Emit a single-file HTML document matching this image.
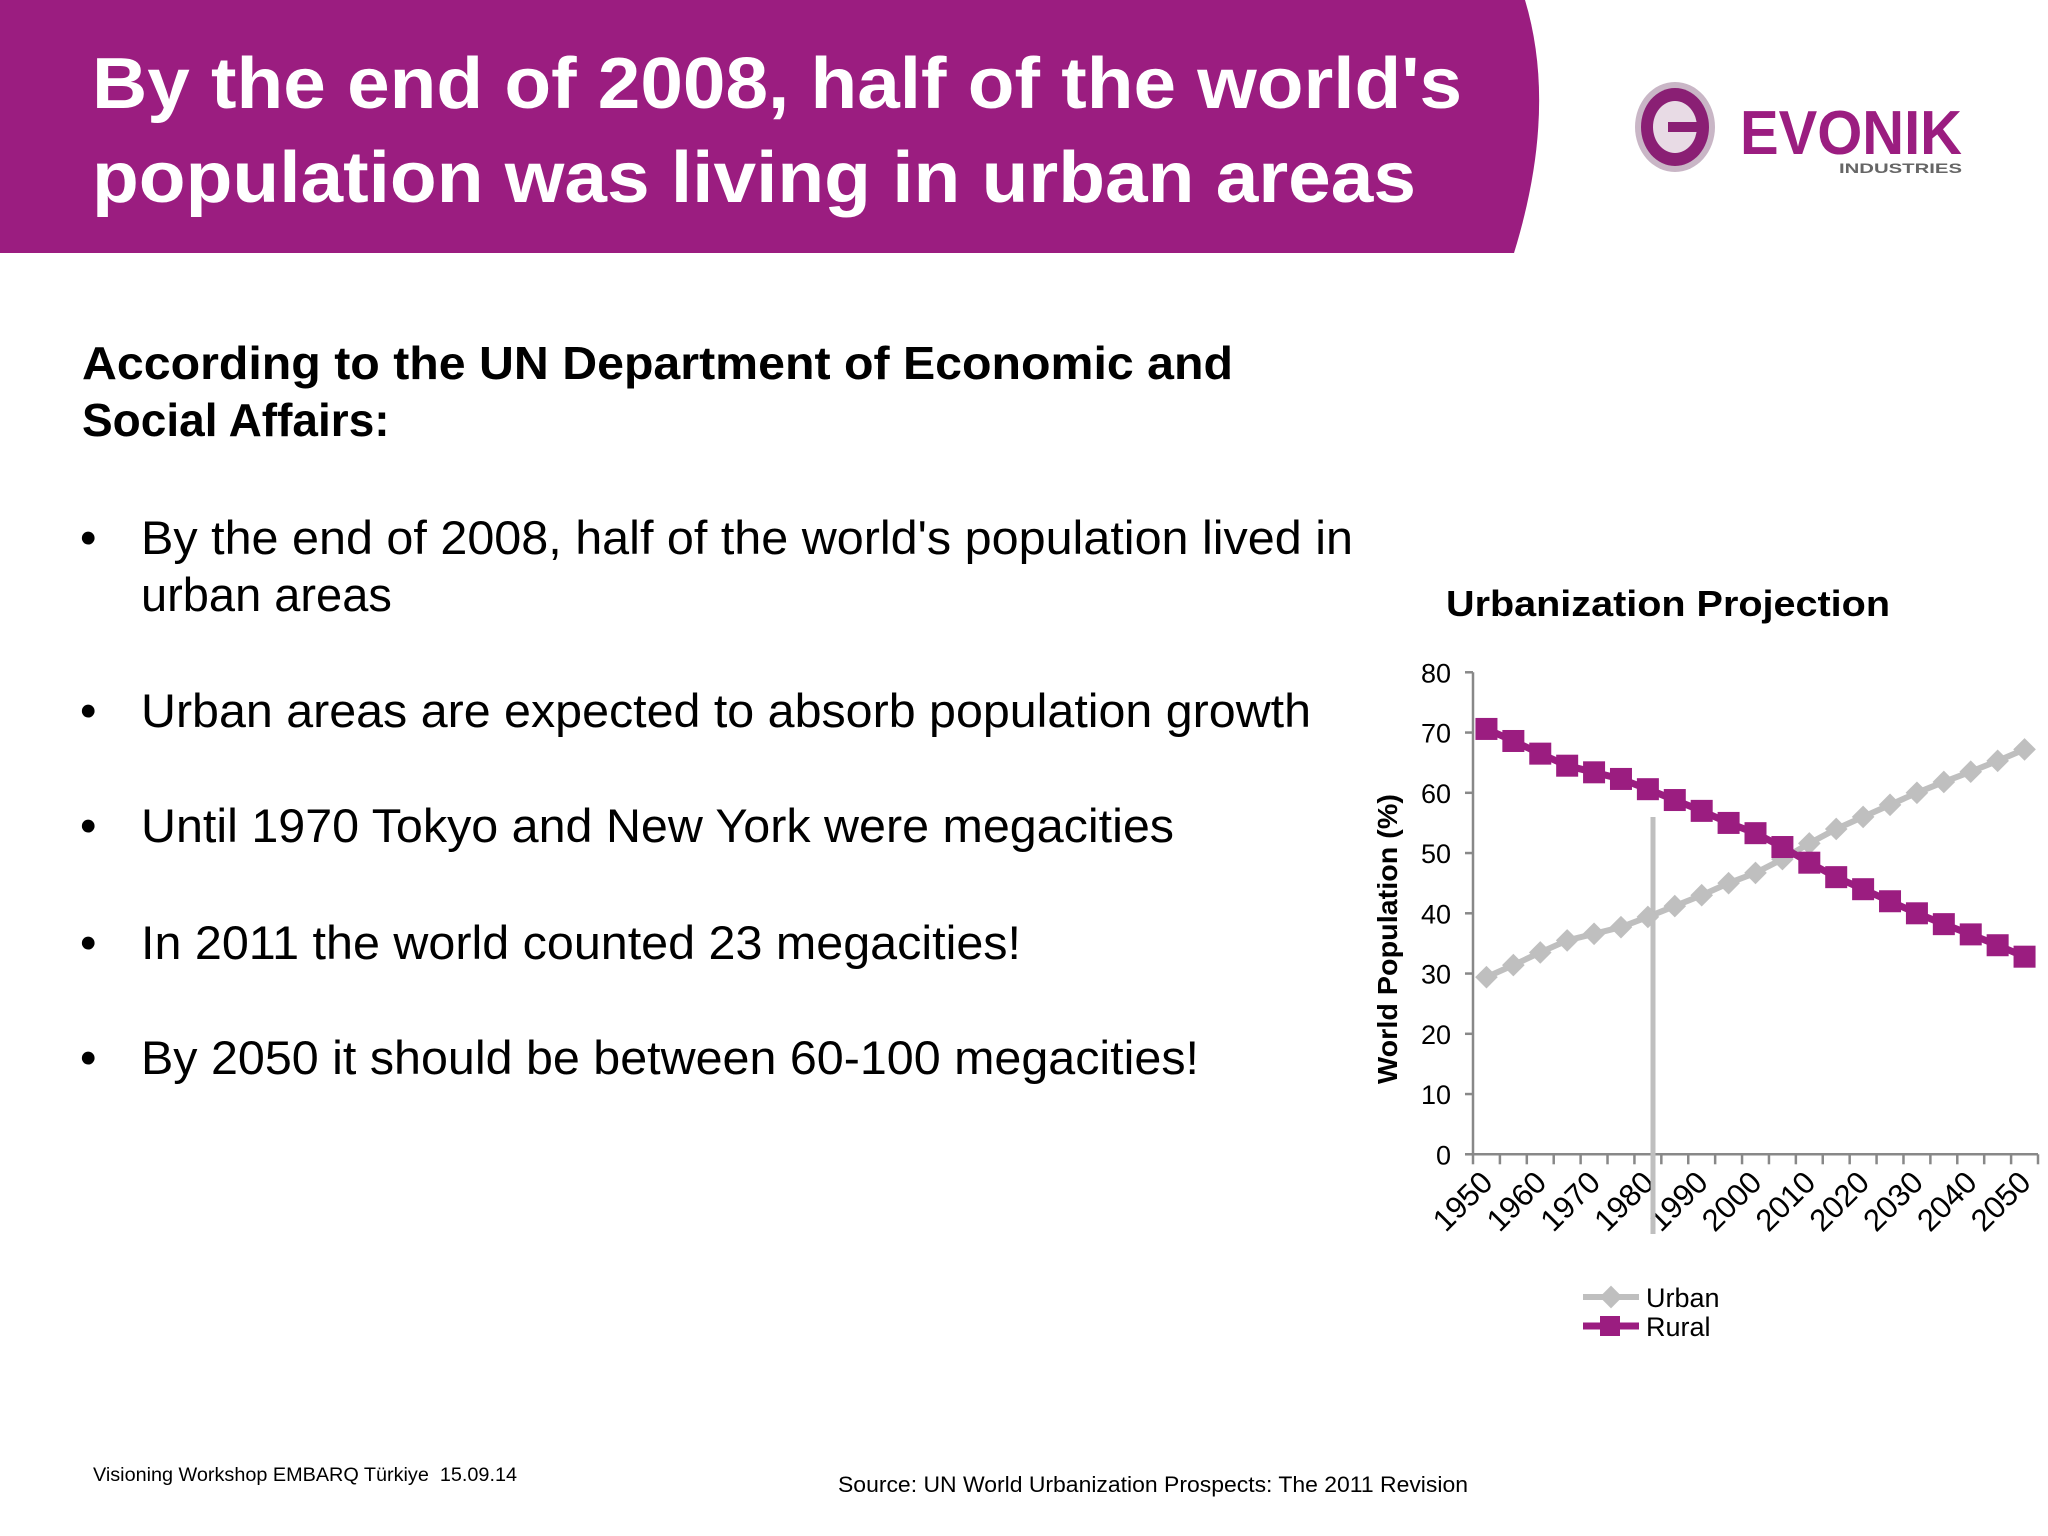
<!DOCTYPE html>
<html><head><meta charset="utf-8"><style>
html,body{margin:0;padding:0;background:#fff;}
svg{display:block;font-family:"Liberation Sans",Arial,sans-serif;}
</style></head><body>
<svg id="slide" width="2048" height="1536" viewBox="0 0 2048 1536" xmlns="http://www.w3.org/2000/svg">
<rect width="2048" height="1536" fill="#fff"/>
<path d="M0 0 H1525 Q1558 110 1514 253 H0 Z" fill="#9b1d80"/>
<g fill="#fff" font-weight="bold" font-size="72">
<text x="92" y="108" textLength="1370" lengthAdjust="spacingAndGlyphs">By the end of 2008, half of the world's</text>
<text x="92" y="202" textLength="1324" lengthAdjust="spacingAndGlyphs">population was living in urban areas</text>
</g>
<g>
<ellipse cx="1675" cy="127" rx="40" ry="45" fill="#c9b6c6"/>
<ellipse cx="1675" cy="127" rx="34" ry="39" fill="#8a1f74"/>
<ellipse cx="1675" cy="127" rx="22" ry="26" fill="#e8dbe5"/>
<rect x="1668" y="122" width="32" height="10" fill="#8a1f74"/>
<text x="1740" y="154" font-size="62" font-weight="bold" fill="#9b1d80" textLength="222" lengthAdjust="spacingAndGlyphs">EVONIK</text>
<text x="1839" y="173" font-size="14" font-weight="bold" fill="#666" textLength="123" lengthAdjust="spacingAndGlyphs">INDUSTRIES</text>
</g>
<g font-weight="bold" font-size="46" fill="#000">
<text x="82" y="379" textLength="1151" lengthAdjust="spacingAndGlyphs">According to the UN Department of Economic and</text>
<text x="82" y="436">Social Affairs:</text>
</g>
<g font-size="47" fill="#000">
<text x="80" y="554">•</text><text x="141" y="554" textLength="1212" lengthAdjust="spacingAndGlyphs">By the end of 2008, half of the world's population lived in</text>
<text x="141" y="611">urban areas</text>
<text x="80" y="727">•</text><text x="141" y="727" textLength="1170" lengthAdjust="spacingAndGlyphs">Urban areas are expected to absorb population growth</text>
<text x="80" y="842">•</text><text x="141" y="842" textLength="1033" lengthAdjust="spacingAndGlyphs">Until 1970 Tokyo and New York were megacities</text>
<text x="80" y="959">•</text><text x="141" y="959" textLength="880" lengthAdjust="spacingAndGlyphs">In 2011 the world counted 23 megacities!</text>
<text x="80" y="1074">•</text><text x="141" y="1074" textLength="1058" lengthAdjust="spacingAndGlyphs">By 2050 it should be between 60-100 megacities!</text>
</g>
<text x="1446" y="616" font-size="36" font-weight="bold" textLength="444" lengthAdjust="spacingAndGlyphs">Urbanization Projection</text>
<text transform="translate(1397,939) rotate(-90)" text-anchor="middle" font-size="28" font-weight="bold" textLength="290" lengthAdjust="spacingAndGlyphs">World Population (%)</text>
<g id="chart"></g>
<g font-size="27">
<g>
<line x1="1583" y1="1297" x2="1639" y2="1297" stroke="#bfbfbf" stroke-width="6"/>
<rect x="1603" y="1289" width="16" height="16" fill="#bfbfbf" transform="rotate(45 1611 1297)"/>
<text x="1646" y="1307">Urban</text></g>
<g>
<line x1="1583" y1="1326" x2="1639" y2="1326" stroke="#9b1d80" stroke-width="7"/>
<rect x="1600" y="1316" width="20" height="20" fill="#9b1d80"/>
<text x="1646" y="1336">Rural</text></g>
</g>
<text x="93" y="1481" font-size="19" xml:space="preserve" textLength="424" lengthAdjust="spacingAndGlyphs">Visioning Workshop EMBARQ Türkiye  15.09.14</text>
<text x="838" y="1492" font-size="22" textLength="630" lengthAdjust="spacingAndGlyphs">Source: UN World Urbanization Prospects: The 2011 Revision</text>
</svg>
<script>
const years = [1950,1955,1960,1965,1970,1975,1980,1985,1990,1995,2000,2005,2010,2015,2020,2025,2030,2035,2040,2045,2050];
const urbanValues = [29.4,31.4,33.5,35.5,36.6,37.7,39.4,41.2,43.0,45.0,46.7,49.0,51.6,54.0,56.0,58.0,60.0,61.8,63.5,65.3,67.2];
const ruralValues = [70.6,68.6,66.5,64.5,63.4,62.3,60.6,58.8,57.0,55.0,53.3,51.0,48.4,46.0,44.0,42.0,40.0,38.2,36.5,34.7,32.8];
const yTicks = [0,10,20,30,40,50,60,70,80];
const xLabels = ["1950","1960","1970","1980","1990","2000","2010","2020","2030","2040","2050"];

const NS = "http://www.w3.org/2000/svg";
const g = document.getElementById('chart');
const X0 = 1473, X1 = 2038, Y0 = 1154.3, Y1 = 672.3, YMAX = 80;
const step = (X1 - X0) / years.length;
const xs = i => X0 + (i + 0.5) * step;
const ys = v => Y0 - (v / YMAX) * (Y0 - Y1);
function mk(tag, attrs, parent) {
  const e = document.createElementNS(NS, tag);
  for (const k in attrs) e.setAttribute(k, attrs[k]);
  (parent || g).appendChild(e);
  return e;
}
let e;
e = mk('line', {x1: X0, y1: Y1, x2: X0, y2: Y0, stroke: '#888', 'stroke-width': 2.5});


e = mk('line', {x1: X0 - 8, y1: Y0, x2: X1, y2: Y0, stroke: '#888', 'stroke-width': 2.5});


yTicks.forEach(t => {
  const tk = mk('line', {x1: X0 - 8, y1: ys(t), x2: X0, y2: ys(t), stroke: '#888', 'stroke-width': 2.5});
  
  
  const tx = mk('text', {x: X0 - 22, y: ys(t) + 10, 'text-anchor': 'end', 'font-size': 27});
  tx.textContent = t;
  
  
});
for (let i = 0; i <= years.length; i++) {
  const tk = mk('line', {x1: X0 + i * step, y1: Y0, x2: X0 + i * step, y2: Y0 + 10, stroke: '#888', 'stroke-width': 2.5});
  
  
}
xLabels.forEach((lab, j) => {
  const i = j * 2;
  const cx = xs(i) + 8, cy = Y0 + 30;
  const tx = mk('text', {x: cx, y: cy, 'text-anchor': 'end', 'font-size': 31, transform: `rotate(-45 ${cx} ${cy})`});
  tx.textContent = lab;
  
  
});
e = mk('line', {x1: 1653, y1: 817, x2: 1653, y2: 1234, stroke: '#bfbfbf', 'stroke-width': 5});


e = mk('polyline', {points: urbanValues.map((v, i) => xs(i) + ',' + ys(v)).join(' '), fill: 'none', stroke: '#bfbfbf', 'stroke-width': 6});


urbanValues.forEach((v, i) => {
  const d = mk('rect', {x: xs(i) - 8, y: ys(v) - 8, width: 16, height: 16, fill: '#bfbfbf', transform: `rotate(45 ${xs(i)} ${ys(v)})`});
  
  
});
e = mk('polyline', {points: ruralValues.map((v, i) => xs(i) + ',' + ys(v)).join(' '), fill: 'none', stroke: '#9b1d80', 'stroke-width': 7});


ruralValues.forEach((v, i) => {
  const d = mk('rect', {x: xs(i) - 11, y: ys(v) - 11, width: 22, height: 22, fill: '#9b1d80'});
  
  
});
</script>
</body></html>
